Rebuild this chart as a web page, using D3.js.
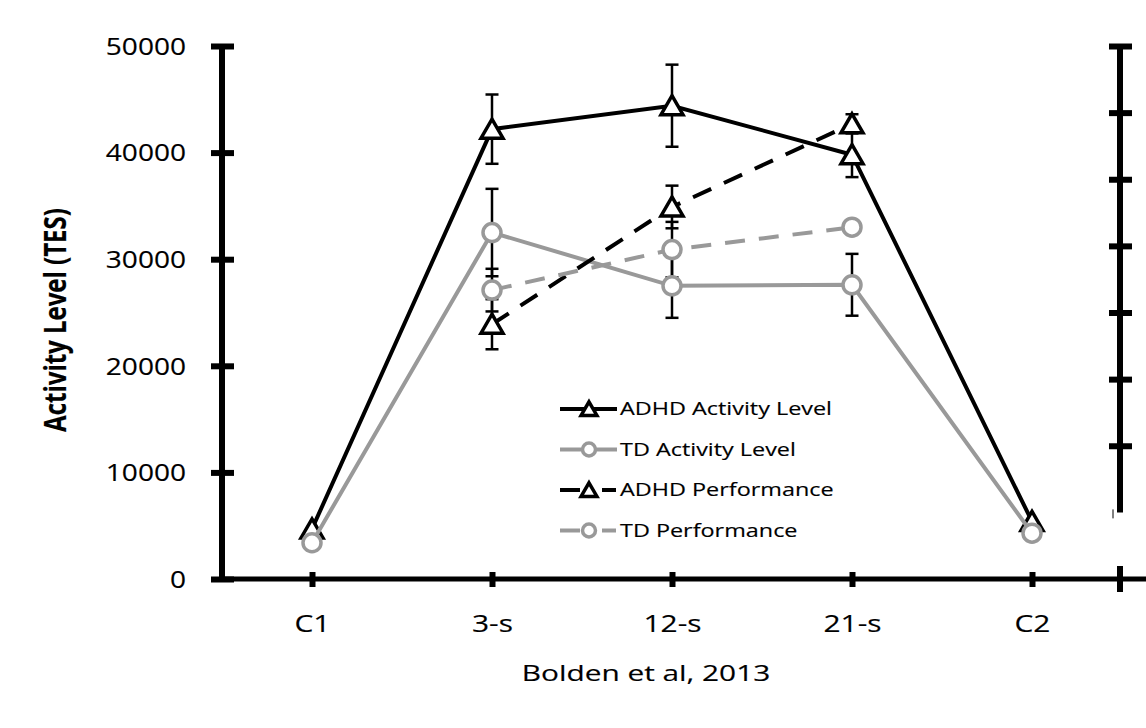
<!DOCTYPE html>
<html>
<head>
<meta charset="utf-8">
<script src="https://cdn.jsdelivr.net/npm/d3@7"></script>
<style>
  html, body { margin: 0; padding: 0; background: #fff; }
  svg text { font-family: "Open Sans", "Noto Sans", sans-serif; fill: #000; stroke: #000; stroke-width: 0.15px; }
</style>
</head>
<body>
<div id="root"></div>
<script>
// data
const categories = ["C1", "3-s", "12-s", "21-s", "C2"];
const adhdActivity = [4700, 42200, 44400, 39800, 5400];
const adhdActivityErr = [0, 3250, 3850, 2100, 0];
const tdActivity = [3400, 32500, 27500, 27600, 4300];
const tdActivityErr = [0, 4100, 3000, 2900, 0];

const perfCategories = ["3-s", "12-s", "21-s"];
const adhdPerformance = [23900, 34900, 42700];
const adhdPerformanceErr = [2350, 2000, 900];
const tdPerformance = [27100, 30900, 33000];
const tdPerformanceErr = [2000, 2600, 600];

const yTicks = [0, 10000, 20000, 30000, 40000, 50000];
const rightTicks = [2, 3, 4, 5, 6, 7, 8];

const legendItems = [
  { label: "ADHD Activity Level", color: "#000", marker: "tri", dashed: false },
  { label: "TD Activity Level", color: "#999", marker: "circ", dashed: false },
  { label: "ADHD Performance", color: "#000", marker: "tri", dashed: true },
  { label: "TD Performance", color: "#999", marker: "circ", dashed: true }
];

const width = 1146, height = 728;
const sx = 1.22; // text in the original is a bit stretched sideways

const svg = d3.select("#root").append("svg")
  .attr("width", width)
  .attr("height", height);

const x = d3.scalePoint()
  .domain(categories)
  .range([222, 1122])
  .padding(0.5);

const y = d3.scaleLinear()
  .domain([0, 50000])
  .range([579, 46]);

const yRight = d3.scaleLinear()
  .domain([0, 8])
  .range([579, 46]);

// ---- axes
const xAxis = svg.append("g")
  .attr("transform", `translate(0, ${y(0)})`)
  .call(d3.axisBottom(x).tickSize(0).tickPadding(0));
xAxis.select(".domain").remove();
xAxis.selectAll(".tick line")
  .attr("y1", -7).attr("y2", 8)
  .attr("stroke", "#000").attr("stroke-width", 6);
xAxis.selectAll(".tick text")
  .attr("y", 53).attr("dy", null)
  .attr("transform", "scale(1.3,1)")
  .style("font-size", "23px");
xAxis.append("line")
  .attr("x1", 220).attr("x2", width)
  .attr("stroke", "#000").attr("stroke-width", 5);

const yAxis = svg.append("g")
  .attr("transform", "translate(222, 0)")
  .call(d3.axisLeft(y).tickValues(yTicks).tickFormat(d3.format("d")).tickSize(0));
yAxis.select(".domain").remove();
yAxis.append("line")
  .attr("y1", y(0) + 2).attr("y2", y(50000))
  .attr("stroke", "#000").attr("stroke-width", 6);
yAxis.selectAll(".tick line")
  .attr("x1", -11).attr("x2", 12)
  .attr("stroke", "#000").attr("stroke-width", 6);
yAxis.selectAll(".tick text")
  .attr("x", -36 / sx).attr("dy", "0.36em")
  .attr("transform", `scale(${sx},1)`)
  .style("font-size", "23px");

const rAxis = svg.append("g")
  .attr("transform", "translate(1120, 0)")
  .call(d3.axisRight(yRight).tickValues(rightTicks).tickFormat("").tickSize(0));
rAxis.select(".domain").remove();
rAxis.append("line")
  .attr("y1", yRight(8)).attr("y2", yRight(1))
  .attr("stroke", "#000").attr("stroke-width", 6);
rAxis.selectAll(".tick line")
  .attr("x1", -11).attr("x2", 12)
  .attr("stroke", "#000").attr("stroke-width", 6);
rAxis.append("line")
  .attr("x1", -7).attr("x2", -7)
  .attr("y1", yRight(1) - 3).attr("y2", yRight(1) + 6)
  .attr("stroke", "#000").attr("stroke-width", 1);
rAxis.append("line")
  .attr("y1", y(0) - 13).attr("y2", y(0) + 13)
  .attr("stroke", "#000").attr("stroke-width", 6);

// axis titles
svg.append("text")
  .attr("transform", `translate(66, 320) scale(1.25,1) rotate(-90)`)
  .attr("text-anchor", "middle")
  .style("font-size", "24px")
  .style("font-weight", "bold")
  .text("Activity Level (TES)");

svg.append("text")
  .attr("transform", "translate(646, 681) scale(1.42,1)")
  .attr("text-anchor", "middle")
  .style("font-size", "21px")
  .text("Bolden et al, 2013");

// ---- series
const series = [
  { cats: categories, values: adhdActivity, errs: adhdActivityErr, color: "#000", marker: "tri", dashed: false },
  { cats: categories, values: tdActivity, errs: tdActivityErr, color: "#999", marker: "circ", dashed: false },
  { cats: perfCategories, values: adhdPerformance, errs: adhdPerformanceErr, color: "#000", marker: "tri", dashed: true },
  { cats: perfCategories, values: tdPerformance, errs: tdPerformanceErr, color: "#999", marker: "circ", dashed: true }
];

const triPath = (s) => `M0,${-10 * s}L${11 * s},${9 * s}L${-11 * s},${9 * s}Z`;

function drawMarker(g, kind, s) {
  if (kind === "tri") {
    g.append("path")
      .attr("d", triPath(s))
      .attr("fill", "#fff")
      .attr("stroke", "#000")
      .attr("stroke-width", 3.5)
      .attr("stroke-linejoin", "miter");
  } else {
    g.append("circle")
      .attr("r", 9 * s)
      .attr("fill", "#fff")
      .attr("stroke", "#999")
      .attr("stroke-width", 3.5);
  }
}

// error bars first, they sit behind the markers
const errG = svg.append("g");
series.forEach(s => {
  s.cats.forEach((c, i) => {
    if (!s.errs[i]) return;
    const cx = x(c);
    const top = y(s.values[i] + s.errs[i]);
    const bot = y(s.values[i] - s.errs[i]);
    errG.append("line")
      .attr("x1", cx).attr("x2", cx).attr("y1", top).attr("y2", bot)
      .attr("stroke", "#000").attr("stroke-width", 2.5);
    [top, bot].forEach(v => {
      errG.append("line")
        .attr("x1", cx - 6.5).attr("x2", cx + 6.5).attr("y1", v).attr("y2", v)
        .attr("stroke", "#000").attr("stroke-width", 2.5);
    });
  });
});

const lineGen = d3.line()
  .x(d => x(d[0]))
  .y(d => y(d[1]));

series.forEach(s => {
  const pts = s.cats.map((c, i) => [c, s.values[i]]);
  svg.append("path")
    .datum(pts)
    .attr("d", lineGen)
    .attr("fill", "none")
    .attr("stroke", s.color)
    .attr("stroke-width", 4)
    .attr("stroke-dasharray", s.dashed ? "20 14" : null);
  pts.forEach(p => {
    const g = svg.append("g").attr("transform", `translate(${x(p[0])}, ${y(p[1])})`);
    drawMarker(g, s.marker, 1);
  });
});

// ---- legend
const legend = svg.append("g");
legendItems.forEach((d, i) => {
  const ly = 409 + i * 40.5;
  legend.append("line")
    .attr("x1", 560).attr("x2", 617)
    .attr("y1", ly).attr("y2", ly)
    .attr("stroke", d.color)
    .attr("stroke-width", 4)
    .attr("stroke-dasharray", d.dashed ? "20 22 14 100" : null);
  const g = legend.append("g").attr("transform", `translate(589, ${ly})`);
  drawMarker(g, d.marker, 0.72);
  legend.append("text")
    .attr("transform", `translate(620, ${ly}) scale(1.3,1)`)
    .attr("dy", "0.36em")
    .style("font-size", "18px")
    .text(d.label);
});
</script>
</body>
</html>
